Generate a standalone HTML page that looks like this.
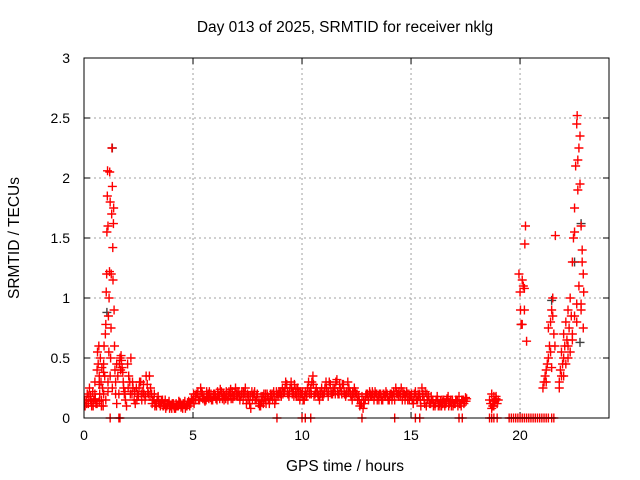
<!DOCTYPE html>
<html><head><meta charset="utf-8"><style>
html,body{margin:0;padding:0;background:#fff;}
svg{display:block;font-family:"Liberation Sans",sans-serif;}
</style></head><body>
<svg id="chart" width="640" height="480" viewBox="0 0 640 480">
<text x="345" y="32" font-size="15.5" text-anchor="middle">Day 013 of 2025, SRMTID for receiver nklg</text>
<text x="345" y="471" font-size="15.5" text-anchor="middle">GPS time / hours</text>
<text x="0" y="0" font-size="15.5" text-anchor="middle" transform="translate(19,238) rotate(-90)">SRMTID / TECUs</text>
<g id="grid"></g>
<g id="ticks"></g>
<defs><clipPath id="pc"><rect x="84" y="58" width="525" height="366"/></clipPath></defs>
<g id="marks" clip-path="url(#pc)"></g>
<rect x="84" y="58" width="525" height="360" fill="none" stroke="#000" stroke-width="1"/>
</svg>
<script>
const xTicks=[0,5,10,15,20];
const yTicks=[0,0.5,1,1.5,2,2.5,3];
const yTickLabels=["0","0.5","1","1.5","2","2.5","3"];
const peakTimes=[0,0.05,0.1,0.15,0.2,0.25,0.3,0.35,0.4,0.45,0.5,0.55,0.6,0.62,0.65,0.68,0.7,0.72,0.75,0.78,0.8,0.82,0.85,0.88,0.9,0.92,0.95,0.98,1.0,1.02,1.04,1.05,1.07,1.08,1.1,1.12,1.14,1.15,1.17,1.18,1.2,1.22,1.24,1.25,1.27,1.28,1.3,1.32,1.33,1.35,1.36,1.38,1.4,1.42,1.45,1.5,1.55,1.6,1.65,1.7,1.75,1.8,1.85,1.9,1.95,0.6,0.7,0.8,0.9,1.0,1.1,1.2,1.3,1.45,1.5,0.3,0.5,0.7,0.9,1.1,0.02,0.12,0.22,0.32,0.42,0.52,1.62,1.68,1.72,1.78,1.82,1.88];
const peakValues=[0.12,0.1,0.15,0.2,0.12,0.25,0.18,0.1,0.22,0.15,0.3,0.12,0.4,0.55,0.45,0.6,0.35,0.2,0.5,0.3,0.15,0.42,0.25,0.1,0.45,0.6,0.35,0.7,0.78,1.05,1.2,1.55,1.85,2.06,1.6,0.85,0.55,1.0,1.22,2.05,1.8,0.5,0.75,1.2,1.7,2.25,1.93,1.42,1.15,1.62,1.75,0.9,0.6,0.4,0.3,0.45,0.35,0.2,0.5,0.52,0.42,0.3,0.2,0.15,0.1,0.12,0.14,0.1,0.2,0.15,0.3,0.35,0.25,0.2,0.12,0.15,0.2,0.28,0.38,0.22,0.15,0.12,0.18,0.14,0.1,0.16,0.45,0.4,0.48,0.38,0.25,0.22];
const baseHours=[2,3,4,5,6,7,8,9,10,11,12,13,14,15,16,17];
const baseValuesA=[
[0.45,0.3,0.2,0.15,0.25,0.18,0.3,0.22,0.15,0.28],
[0.35,0.2,0.15,0.12,0.18,0.1,0.15,0.12,0.1,0.14],
[0.1,0.12,0.08,0.1,0.13,0.1,0.12,0.1,0.14,0.12],
[0.15,0.18,0.2,0.15,0.22,0.18,0.15,0.2,0.17,0.15],
[0.2,0.15,0.18,0.22,0.2,0.16,0.15,0.2,0.22,0.18],
[0.2,0.22,0.18,0.15,0.25,0.2,0.12,0.22,0.2,0.15],
[0.12,0.1,0.18,0.15,0.2,0.12,0.18,0.22,0.15,0.18],
[0.2,0.25,0.22,0.28,0.18,0.3,0.22,0.2,0.25,0.15],
[0.2,0.15,0.18,0.3,0.25,0.35,0.2,0.22,0.15,0.25],
[0.2,0.3,0.18,0.28,0.2,0.25,0.32,0.2,0.22,0.28],
[0.18,0.3,0.22,0.15,0.25,0.2,0.18,0.12,0.08,0.15],
[0.2,0.22,0.18,0.15,0.2,0.18,0.2,0.15,0.18,0.2],
[0.15,0.2,0.22,0.25,0.2,0.18,0.15,0.2,0.22,0.2],
[0.18,0.12,0.22,0.15,0.2,0.25,0.15,0.1,0.18,0.12],
[0.15,0.1,0.18,0.12,0.1,0.15,0.12,0.18,0.14,0.15],
[0.12,0.15,0.18,0.1,0.15,0.17]];
const baseValuesB=[
[0.35,0.5,0.25,0.12,0.2,0.3,0.15,0.2,0.35,0.2],
[0.25,0.15,0.1,0.15,0.12,0.14,0.1,0.08,0.12,0.1],
[0.12,0.08,0.1,0.14,0.09,0.12,0.08,0.12,0.1,0.15],
[0.12,0.2,0.15,0.25,0.16,0.14,0.18,0.22,0.15,0.2],
[0.16,0.2,0.24,0.16,0.18,0.2,0.22,0.16,0.18,0.25],
[0.18,0.15,0.22,0.2,0.12,0.18,0.08,0.18,0.15,0.2],
[0.1,0.14,0.2,0.12,0.16,0.2,0.15,0.12,0.2,0.22],
[0.18,0.22,0.3,0.2,0.25,0.2,0.28,0.18,0.22,0.2],
[0.15,0.22,0.25,0.2,0.3,0.18,0.25,0.18,0.2,0.18],
[0.25,0.22,0.3,0.2,0.22,0.3,0.2,0.25,0.28,0.2],
[0.22,0.25,0.18,0.2,0.22,0.15,0.1,0.18,0.12,0.2],
[0.15,0.18,0.2,0.22,0.15,0.2,0.15,0.2,0.22,0.15],
[0.2,0.18,0.15,0.2,0.22,0.25,0.2,0.18,0.15,0.18],
[0.15,0.2,0.15,0.18,0.1,0.2,0.22,0.15,0.12,0.15],
[0.12,0.15,0.1,0.14,0.12,0.1,0.16,0.12,0.1,0.12],
[0.15,0.1,0.12,0.15,0.14,0.16]];
const baseValuesC=[
[0.25,0.2,0.3,0.22,0.15,0.25,0.2,0.28,0.18,0.22],
[0.18,0.12,0.2,0.1,0.14,0.12,0.1,0.15,0.12,0.08],
[0.08,0.1,0.12,0.1,0.12,0.08,0.14,0.1,0.12,0.16],
[0.2,0.15,0.22,0.18,0.2,0.15,0.22,0.16,0.2,0.18],
[0.18,0.22,0.16,0.2,0.15,0.22,0.18,0.24,0.16,0.2],
[0.22,0.18,0.2,0.22,0.18,0.15,0.18,0.15,0.22,0.18],
[0.15,0.18,0.12,0.2,0.18,0.15,0.2,0.18,0.22,0.2],
[0.22,0.2,0.25,0.22,0.22,0.25,0.18,0.24,0.18,0.22],
[0.22,0.18,0.2,0.22,0.2,0.28,0.22,0.2,0.22,0.2],
[0.22,0.25,0.22,0.22,0.25,0.2,0.22,0.28,0.2,0.22],
[0.2,0.22,0.2,0.22,0.18,0.2,0.15,0.12,0.15,0.18],
[0.18,0.2,0.22,0.18,0.2,0.15,0.18,0.2,0.18,0.18],
[0.18,0.15,0.2,0.22,0.18,0.2,0.22,0.15,0.2,0.15],
[0.2,0.15,0.18,0.2,0.15,0.18,0.12,0.2,0.15,0.18],
[0.1,0.12,0.15,0.1,0.15,0.12,0.14,0.1,0.15,0.1],
[0.12,0.14,0.12,0.15,0.12,0.14]];
const lateTimes=[18.6,18.65,18.7,18.75,18.8,18.85,18.9,18.95,19.0,18.7,18.8,18.9,19.95,20.0,20.02,20.05,20.1,20.15,20.2,20.22,20.25,20.3,20.1,20.2,21.05,21.1,21.15,21.2,21.25,21.3,21.35,21.4,21.45,21.5,21.55,21.6,21.62,21.3,21.4,21.5,21.2,21.45,21.8,21.85,21.9,21.95,22.0,22.05,22.1,22.15,22.2,22.25,22.3,22.35,22.4,22.45,22.5,22.55,22.6,22.62,22.65,22.7,22.75,22.8,22.85,22.9,22.92,21.9,22.0,22.1,22.2,22.3,22.4,22.5,22.6,22.7,22.8,22.9,21.8,22.0,22.2,22.4,22.6,22.8,22.5,22.65,22.75,22.85];
const lateValues=[0.15,0.12,0.2,0.1,0.18,0.14,0.16,0.12,0.15,0.08,0.1,0.18,1.2,1.05,0.9,0.78,1.15,1.1,0.9,1.45,1.6,0.64,0.78,1.08,0.25,0.3,0.35,0.4,0.45,0.5,0.6,0.8,0.9,1.0,0.7,0.6,1.52,0.75,0.55,0.85,0.3,0.42,0.3,0.4,0.55,0.45,0.7,0.6,0.8,0.65,0.9,0.75,1.0,0.85,1.3,1.5,1.75,2.1,2.45,2.52,1.9,2.25,2.35,1.6,1.4,1.2,1.05,0.35,0.5,0.45,0.6,0.55,0.7,0.85,0.95,1.1,0.9,0.75,0.25,0.35,0.5,0.65,0.8,0.95,1.55,2.15,1.95,1.3];
const zeroTimes=[1.2,1.6,1.65,8.85,10.0,10.15,10.4,12.75,14.25,15.2,15.4,17.2,17.35,18.6,18.7,18.8,18.95,19.5,19.6,19.7,19.8,19.9,20.0,20.1,20.2,20.3,20.4,20.5,20.6,20.7,20.8,20.9,21.0,21.1,21.2,21.3,21.45,21.55];
const darkTimes=[1.05,1.3,20.05,21.45,22.5,22.75,22.8];
const darkValues=[0.88,2.25,0.78,0.98,1.3,0.63,1.62];

const NS="http://www.w3.org/2000/svg";
const X0=84,X1=609,Y0=418,Y1=58,XMAX=24.08,YMAX=3;
function xs(t){return X0+(X1-X0)*t/XMAX;}
function ys(v){return Y0-(Y0-Y1)*v/YMAX;}
const grid=document.getElementById('grid'),ticks=document.getElementById('ticks'),marks=document.getElementById('marks'),svg=document.getElementById('chart');
function mk(tag,attrs,parent){const e=document.createElementNS(NS,tag);for(const k in attrs)e.setAttribute(k,attrs[k]);parent.appendChild(e);return e;}
xTicks.forEach((t,i)=>{
  const x=xs(t);
  if(t>0){const g=mk('line',{x1:x,x2:x,y1:Y1,y2:Y0,stroke:'#a0a0a0','stroke-dasharray':'2,3'},grid);
  
  }
  const tk=mk('path',{d:`M${x} ${Y0}v-6M${x} ${Y1}v6`,stroke:'#000'},ticks);
  
  
  const l=mk('text',{x:x,y:Y0+22,'font-size':14,'text-anchor':'middle'},svg);
  l.textContent=String(t);
  
  
});
yTicks.forEach((v,i)=>{
  const y=ys(v);
  if(v>0&&v<YMAX){const g=mk('line',{x1:X0,x2:X1,y1:y,y2:y,stroke:'#a0a0a0','stroke-dasharray':'2,3'},grid);
  
  }
  const tk=mk('path',{d:`M${X0} ${y}h6M${X1} ${y}h-6`,stroke:'#000'},ticks);
  
  
  const l=mk('text',{x:X0-14,y:y+5,'font-size':14,'text-anchor':'end'},svg);
  l.textContent=yTickLabels[i];
  
  
});
function plus(t,v,color,name){
  const x=xs(t),y=ys(v);
  const p=mk('path',{d:`M${x-4.5} ${y}h9M${x} ${y-4.5}v9`,stroke:color,'stroke-width':1.4},marks);
  
  
}
darkTimes.forEach((t,i)=>plus(t,darkValues[i],'#404040','dark-point'));
peakTimes.forEach((t,i)=>plus(t,peakValues[i],'#ff0000','srmtid-point'));
baseHours.forEach((h,i)=>{
  baseValuesA[i].forEach((v,j)=>plus(h+j/10,v,'#ff0000','srmtid-point'));
  baseValuesB[i].forEach((v,j)=>plus(h+j/10+0.05,v,'#ff0000','srmtid-point'));
  baseValuesC[i].forEach((v,j)=>plus(h+j/10+0.025,v,'#ff0000','srmtid-point'));
});
lateTimes.forEach((t,i)=>plus(t,lateValues[i],'#ff0000','srmtid-point'));
zeroTimes.forEach(t=>plus(t,0,'#ff0000','zero-point'));
</script>
</body></html>
